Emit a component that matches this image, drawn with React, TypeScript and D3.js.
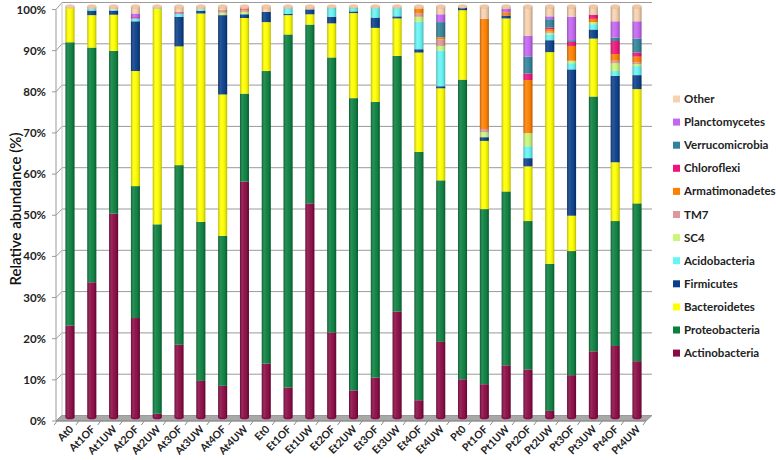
import React from "react";
import * as d3 from "d3";

const categories = ["At0","At1OF","At1UW","At2OF","At2UW","At3OF","At3UW","At4OF","At4UW","Et0","Et1OF","Et1UW","Et2OF","Et2UW","Et3OF","Et3UW","Et4OF","Et4UW","Pt0","Pt1OF","Pt1UW","Pt2OF","Pt2UW","Pt3OF","Pt3UW","Pt4OF","Pt4UW"];

const seriesNames = ["Actinobacteria","Proteobacteria","Bacteroidetes","Firmicutes","Acidobacteria","SC4","TM7","Armatimonadetes","Chloroflexi","Verrucomicrobia","Planctomycetes","Other"];
const seriesColors = ["#8a0a44","#0b7f3f","#ffff00","#0a3f8a","#66f5f5","#ccf57a","#dd9999","#ff8000","#f0147a","#31839a","#c466f2","#f8d2b0"];

const actinobacteria = [22.4,32.9,49.6,24.2,0.9,17.7,8.9,7.7,57.4,13.1,7.3,52.1,20.7,6.6,9.7,25.8,4.2,18.4,9.3,8.1,12.7,11.7,1.6,10.3,16.1,17.4,13.7];
const proteobacteria = [68.9,57.1,39.6,32.1,46.1,43.7,38.7,36.5,21.4,71.2,85.9,43.5,66.9,71.1,67.1,62.2,60.4,39.3,72.9,42.6,42.3,36.1,35.8,30.2,62.0,30.4,38.4];
const bacteroidetes = [8.3,7.9,8.8,28.0,52.4,28.9,50.7,34.4,18.4,11.9,4.7,2.5,8.3,20.7,18.0,9.1,24.2,22.4,16.9,16.6,42.1,13.3,51.5,8.6,14.1,14.3,27.8];
const firmicutes = [0,1.1,1.0,12.1,0,7.2,0.6,19.3,0.9,2.5,0.3,1.2,1.6,0.4,2.5,0.5,0.8,0.5,0.7,0.9,0.7,2.0,2.9,35.6,2.2,21.0,3.4];
const acidobacteria = [0,0.4,0.2,0.7,0.2,0.8,0.4,0,0.1,0,1.4,0,2.2,1.0,2.3,2.0,6.7,8.7,0,0,0,2.9,1.4,1.5,1.3,1.2,2.2];
const sc4 = [0,0,0.1,0,0,0,0,0.6,0.5,0,0,0,0,0,0,0,1.2,1.1,0,1.2,0,3.2,0.4,0.6,0.5,1.9,0.5];
const tm7 = [0,0,0,0,0,0,0,0.7,0.4,0,0,0,0,0,0,0,0.8,1.6,0,0.8,0,0,0.3,0,0,0.6,0.4];
const armatimonadetes = [0,0,0,0,0,0,0,0,0.2,0,0,0,0,0,0,0,1.2,0.5,0,26.8,0.8,12.9,0.6,3.6,0.8,1.6,1.4];
const chloroflexi = [0,0,0,0.3,0,0.3,0,0,0.2,0,0,0,0,0,0,0,0,0,0,0,0,1.6,0.4,1.0,1.0,3.2,1.0];
const verrucomicrobia = [0,0,0,0,0,0,0,0,0,0,0,0,0,0,0,0,0,3.7,0,0,0,4.1,2.0,0.4,0,0.8,3.4];
const planctomycetes = [0,0,0,0.9,0,0,0,0,0,0,0,0,0,0,0,0,0,1.9,0,0,0.8,5.1,0.7,5.7,0,4.0,4.2];
const other = [0.4,0.6,0.7,1.7,0.4,1.4,0.7,0.8,0.5,1.3,0.4,0.7,0.3,0.2,0.4,0.4,0.5,1.9,0.2,3.0,0.6,7.1,2.4,2.5,2.0,3.6,3.6];

const yTicks = [0,10,20,30,40,50,60,70,80,90,100];

const seriesValues = [actinobacteria,proteobacteria,bacteroidetes,firmicutes,acidobacteria,sc4,tm7,armatimonadetes,chloroflexi,verrucomicrobia,planctomycetes,other];

export default function App() {
  const W = 776, H = 460;
  const rows = categories.map((c, i) => {
    const r: any = { cat: c };
    seriesNames.forEach((s, k) => { r[s] = seriesValues[k][i]; });
    return r;
  });
  const stacked = d3.stack().keys(seriesNames)(rows);

  const x = d3.scalePoint().domain(categories).range([70, 637]);
  const yBar = d3.scaleLinear().domain([0, 100]).range([417.5, 6.5]);
  const yBack = d3.scaleLinear().domain([0, 100]).range([415.5, 2.5]);
  const yFront = d3.scaleLinear().domain([0, 100]).range([421, 9.5]);
  const bw = 9;
  const gx0 = 62, gx1 = 652, dx = 6;
  const step = x.step();

  const font = "Lato, 'Open Sans', sans-serif";

  return (
    <svg width={W} height={H} style={{ position: "absolute", left: 0, top: 0, background: "#fff" }} fontFamily={font}>
      <defs>
        <linearGradient id="cyl" x1="0" x2="1" y1="0" y2="0">
          <stop offset="0" stopColor="#000" stopOpacity="0.28" />
          <stop offset="0.3" stopColor="#fff" stopOpacity="0.12" />
          <stop offset="0.5" stopColor="#fff" stopOpacity="0.05" />
          <stop offset="0.85" stopColor="#000" stopOpacity="0.12" />
          <stop offset="1" stopColor="#000" stopOpacity="0.3" />
        </linearGradient>
      </defs>
      {yTicks.map(t => (
        <g key={t}>
          {t > 0 && <line x1={gx0} x2={gx1} y1={yBack(t)} y2={yBack(t)} stroke="#9a9a9a" strokeWidth={1} />}
          <line x1={gx0 - dx} x2={gx0} y1={yFront(t)} y2={yBack(t)} stroke="#9a9a9a" strokeWidth={1} />
          <line x1={gx0 - dx - 4} x2={gx0 - dx} y1={yFront(t)} y2={yFront(t)} stroke="#9a9a9a" strokeWidth={1} />
          <text x={46} y={yFront(t)} dy="0.35em" textAnchor="end" fontSize={11.5} fontWeight="bold" fill="#222">{t}%</text>
        </g>
      ))}
      <line x1={gx0 - dx} x2={gx0 - dx} y1={yFront(0)} y2={yFront(100)} stroke="#9a9a9a" />
      <line x1={gx0} x2={gx0} y1={yBack(0)} y2={yBack(100)} stroke="#c8c8c8" />
      <polygon points={`${gx0 - dx},${yFront(0)} ${gx0},${yBack(0)} ${gx1},${yBack(0)} ${gx1 - dx},${yFront(0)}`} fill="#a8a8a8" stroke="#8c8c8c" strokeWidth={0.8} />
      <line x1={gx0 - dx} x2={gx1 - dx} y1={yFront(0)} y2={yFront(0)} stroke="#8c8c8c" />
      {categories.map((c) => {
        const bx = (x(c) as number) - step / 2 - 2;
        return <line key={"t" + c} x1={bx} x2={bx - 3} y1={yFront(0)} y2={yFront(0) + 4} stroke="#8c8c8c" />;
      })}
      {(() => { const bx = (x(categories[categories.length - 1]) as number) + step / 2 - 2; return <line x1={bx} x2={bx - 3} y1={yFront(0)} y2={yFront(0) + 4} stroke="#8c8c8c" />; })()}
      {categories.map((c, i) => {
        const cx = x(c) as number;
        return (
          <g key={c}>
            <ellipse cx={cx} cy={yBar(0)} rx={bw / 2} ry={1.8} fill={seriesColors[0]} />
            {stacked.map((s, k) => {
              const d = s[i];
              const h = yBar(d[0]) - yBar(d[1]);
              if (h <= 0) return null;
              return <rect key={k} x={cx - bw / 2} y={yBar(d[1])} width={bw} height={h} fill={seriesColors[k]} />;
            })}
            <rect x={cx - bw / 2} y={yBar(100)} width={bw} height={yBar(0) - yBar(100)} fill="url(#cyl)" />
            <ellipse cx={cx} cy={yBar(100)} rx={bw / 2} ry={1.8} fill="#f3c9a6" stroke="#d9b090" strokeWidth={0.5} />
          </g>
        );
      })}
      {categories.map(c => {
        const cx = x(c) as number;
        return (
          <text key={"l" + c} transform={`translate(${cx + 4},${yFront(0) + 9}) rotate(-45)`} textAnchor="end" fontSize={10.5} fontWeight="bold" fill="#222">{c}</text>
        );
      })}
      <text transform={`translate(21,209) rotate(-90)`} textAnchor="middle" fontSize={15} fontWeight={600} fill="#111">Relative abundance (%)</text>
      {seriesNames.slice().reverse().map((s, j) => {
        const k = seriesNames.length - 1 - j;
        const ly = 99 + j * 23.1;
        return (
          <g key={s}>
            <rect x={673} y={ly - 3.5} width={7} height={7} fill={seriesColors[k]} />
            <text x={684} y={ly} dy="0.35em" fontSize={11.5} fontWeight="bold" fill="#222">{s}</text>
          </g>
        );
      })}
    </svg>
  );
}
